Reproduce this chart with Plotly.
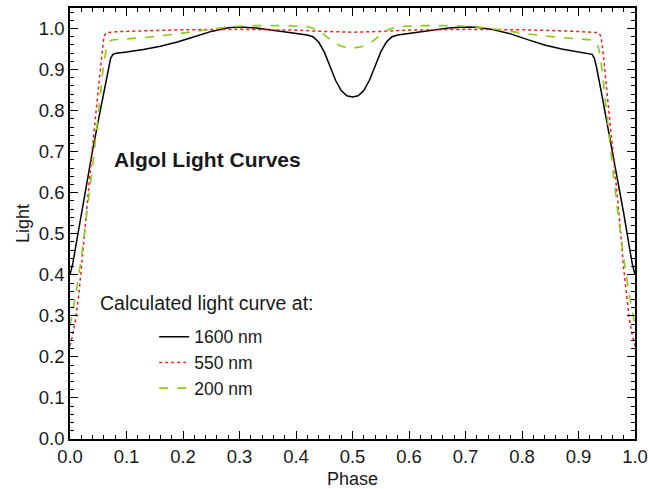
import plotly.graph_objects as go

# ---- data ----
phase_1600 = [0.000, 0.005, 0.010, 0.020, 0.030, 0.040, 0.050, 0.060, 0.068, 0.072, 0.076, 0.082,
              0.100, 0.130, 0.160, 0.190, 0.220, 0.250, 0.280, 0.300, 0.330, 0.360, 0.390, 0.420,
              0.430, 0.440, 0.450, 0.460, 0.470, 0.480, 0.490, 0.500,
              0.510, 0.520, 0.530, 0.540, 0.550, 0.560, 0.570, 0.580, 0.610, 0.640, 0.670, 0.700,
              0.720, 0.750, 0.780, 0.810, 0.840, 0.870, 0.900, 0.918, 0.924, 0.928, 0.932, 0.940,
              0.950, 0.960, 0.970, 0.980, 0.990, 0.995, 1.000]
light_1600 = [0.400, 0.428, 0.468, 0.550, 0.628, 0.703, 0.775, 0.848, 0.905, 0.928, 0.937, 0.940,
              0.943, 0.949, 0.957, 0.967, 0.980, 0.993, 1.002, 1.004, 1.001, 0.995, 0.990, 0.984,
              0.980, 0.967, 0.943, 0.908, 0.874, 0.849, 0.836, 0.833,
              0.836, 0.849, 0.874, 0.908, 0.943, 0.967, 0.980, 0.984, 0.990, 0.995, 1.001, 1.004,
              1.003, 0.997, 0.987, 0.973, 0.960, 0.950, 0.943, 0.940, 0.937, 0.928, 0.905, 0.848,
              0.775, 0.703, 0.628, 0.550, 0.468, 0.428, 0.400]

phase_550 = [0.000, 0.005, 0.010, 0.015, 0.020, 0.030, 0.040, 0.050, 0.056, 0.060, 0.064, 0.080,
             0.120, 0.200, 0.300, 0.400, 0.450, 0.500, 0.550, 0.600, 0.700, 0.800, 0.880, 0.920,
             0.936, 0.940, 0.944, 0.950, 0.960, 0.970, 0.980, 0.985, 0.990, 0.995, 1.000]
light_550 = [0.227, 0.255, 0.292, 0.345, 0.415, 0.575, 0.715, 0.850, 0.935, 0.980, 0.990, 0.992,
             0.994, 0.997, 0.998, 0.996, 0.993, 0.991, 0.993, 0.996, 0.998, 0.997, 0.994, 0.992,
             0.990, 0.980, 0.935, 0.850, 0.715, 0.575, 0.415, 0.345, 0.292, 0.255, 0.227]

phase_200 = [0.000, 0.005, 0.010, 0.020, 0.030, 0.040, 0.050, 0.058, 0.064, 0.068, 0.074, 0.100,
             0.140, 0.190, 0.240, 0.280, 0.320, 0.380, 0.420, 0.435, 0.450, 0.465, 0.480, 0.490,
             0.500, 0.510, 0.520, 0.535, 0.550, 0.565, 0.580, 0.620, 0.680, 0.720, 0.760, 0.810,
             0.860, 0.900, 0.926, 0.932, 0.936, 0.942, 0.950, 0.960, 0.970, 0.980, 0.990, 0.995, 1.000]
light_200 = [0.275, 0.310, 0.350, 0.440, 0.548, 0.665, 0.790, 0.895, 0.950, 0.966, 0.972, 0.975,
             0.979, 0.987, 0.997, 1.004, 1.007, 1.007, 1.005, 0.998, 0.985, 0.968, 0.957, 0.954,
             0.953, 0.954, 0.957, 0.968, 0.985, 0.998, 1.005, 1.007, 1.007, 1.004, 0.997, 0.987,
             0.979, 0.975, 0.972, 0.966, 0.950, 0.895, 0.790, 0.665, 0.548, 0.440, 0.350, 0.310, 0.275]

series_names = ["1600 nm", "550 nm", "200 nm"]
x_ticks = [0.0, 0.1, 0.2, 0.3, 0.4, 0.5, 0.6, 0.7, 0.8, 0.9, 1.0]
y_ticks = [0.0, 0.1, 0.2, 0.3, 0.4, 0.5, 0.6, 0.7, 0.8, 0.9, 1.0]

FONT = "Liberation Sans, Arial, Helvetica, sans-serif"
TXT = "#1a1a1a"

fig = go.Figure()
fig.add_trace(go.Scatter(x=phase_1600, y=light_1600, mode="lines", name=series_names[0],
                         line=dict(color="black", width=1.5, dash="solid")))
fig.add_trace(go.Scatter(x=phase_550, y=light_550, mode="lines", name=series_names[1],
                         line=dict(color="#e8211b", width=1.5, dash="dot")))
fig.add_trace(go.Scatter(x=phase_200, y=light_200, mode="lines", name=series_names[2],
                         line=dict(color="#86cc1c", width=1.6, dash="dash")))

axis_common = dict(
    showline=True, linecolor="black", linewidth=1.5, mirror="allticks",
    ticks="inside", ticklen=8, tickwidth=1.3, tickcolor="black",
    showgrid=False, zeroline=False, tickformat=".1f", automargin=False,
    tickfont=dict(family=FONT, size=18.5, color=TXT),
    minor=dict(ticks="inside", ticklen=4, tickwidth=1.1, tickcolor="black", dtick=0.02, showgrid=False),
)

fig.update_xaxes(range=[0, 1], tickvals=x_ticks,
                 title=dict(text="Phase", font=dict(family=FONT, size=18, color=TXT), standoff=9),
                 **axis_common)
fig.update_yaxes(range=[0, 1.05], tickvals=y_ticks,
                 title=dict(text="Light", font=dict(family=FONT, size=18, color=TXT), standoff=5),
                 **axis_common)

fig.add_annotation(x=0.074, y=0.68, xref="x", yref="y", xanchor="left", yanchor="middle",
                   text="<b>Algol Light Curves</b>", showarrow=False,
                   font=dict(family=FONT, size=21, color=TXT))
fig.add_annotation(x=0.05, y=0.332, xref="x", yref="y", xanchor="left", yanchor="middle",
                   text="Calculated light curve at:", showarrow=False,
                   font=dict(family=FONT, size=19.5, color=TXT))

fig.update_layout(
    width=648, height=489,
    margin=dict(l=70, r=13, t=8, b=50),
    paper_bgcolor="white", plot_bgcolor="white",
    showlegend=True,
    legend=dict(x=0.149, y=0.279, xanchor="left", yanchor="top",
                bgcolor="rgba(0,0,0,0)", borderwidth=0,
                font=dict(family=FONT, size=17.5, color=TXT),
                itemwidth=30, tracegroupgap=0),
)

fig.write_html("out.html")
